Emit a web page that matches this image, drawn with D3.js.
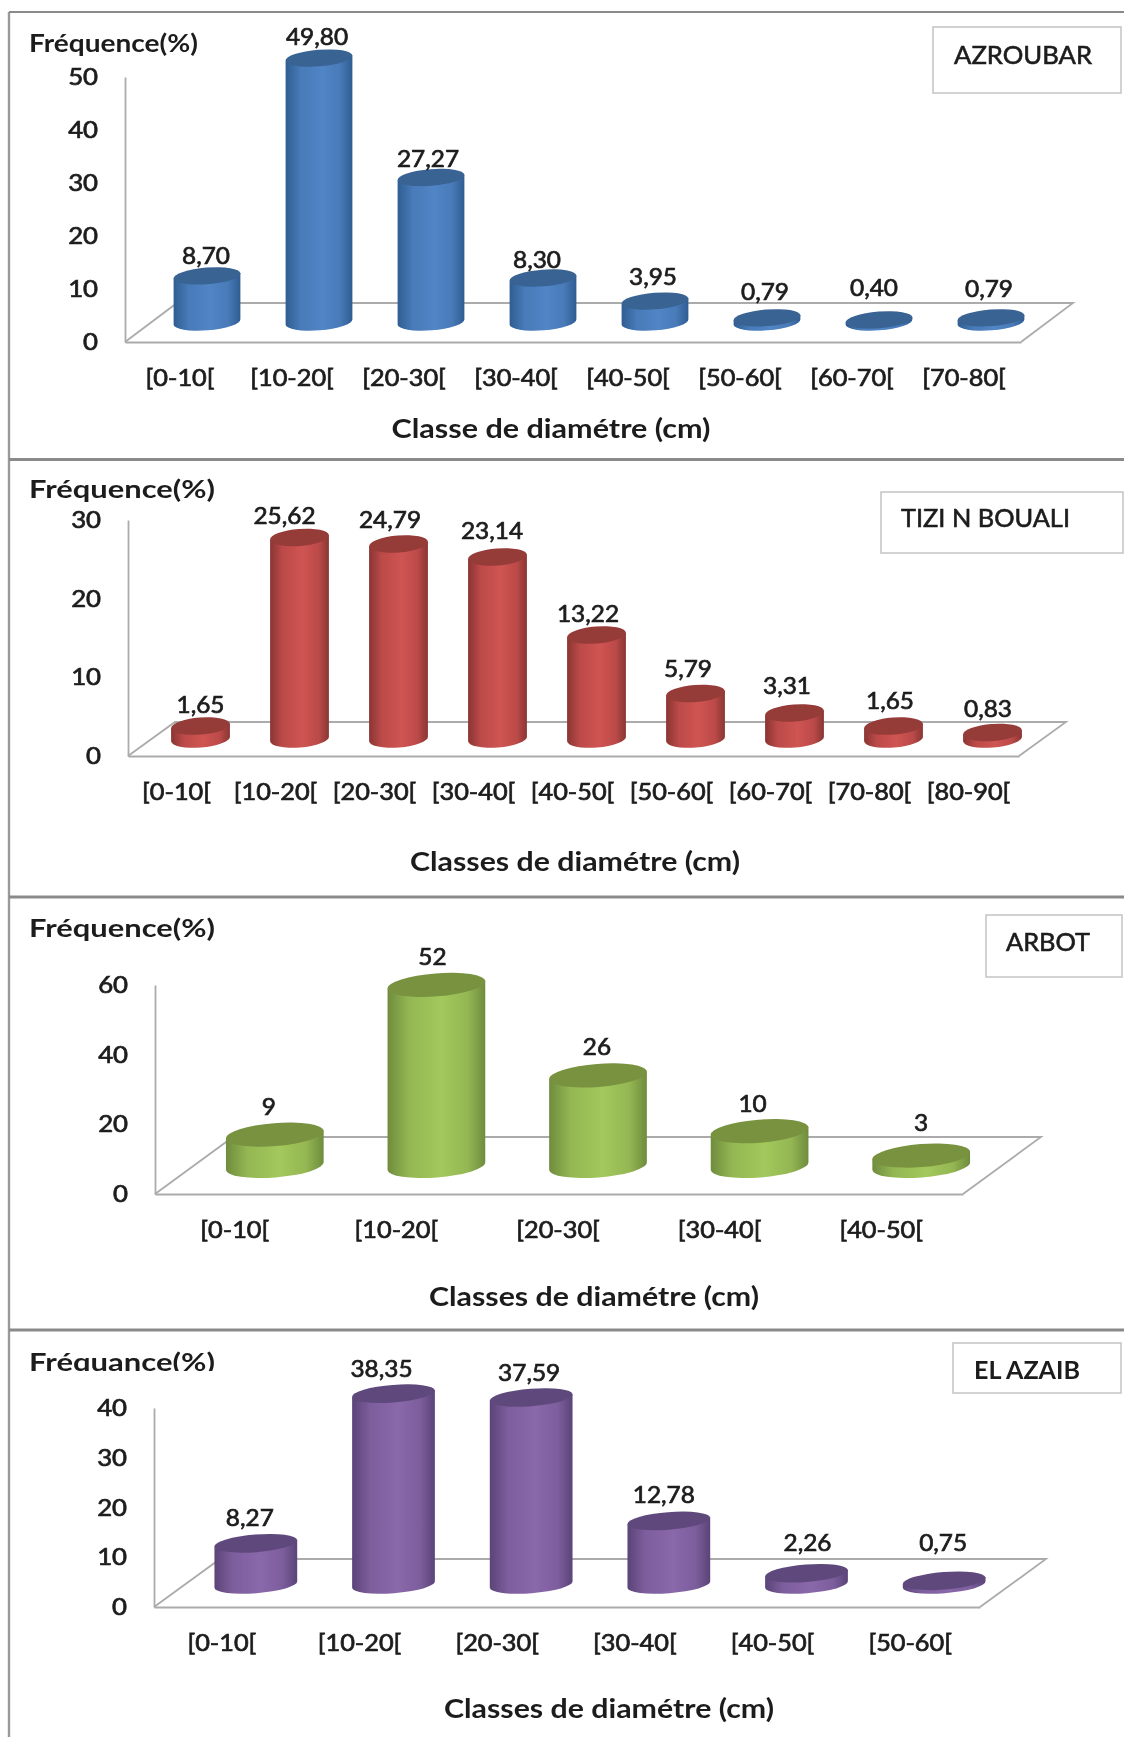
<!DOCTYPE html>
<html>
<head>
<meta charset="utf-8">
<script src="https://cdn.jsdelivr.net/npm/d3@7"></script>
<style>
  html, body { margin: 0; padding: 0; background: #fff; }
  svg { display: block; }
  text { font-family: Lato, "Open Sans", sans-serif; fill: #1c1c1c; }
</style>
</head>
<body>
<svg id="chart"></svg>
<script>
// Data
const classesAzroubar = ["[0-10[", "[10-20[", "[20-30[", "[30-40[", "[40-50[", "[50-60[", "[60-70[", "[70-80["];
const valuesAzroubar = [8.70, 49.80, 27.27, 8.30, 3.95, 0.79, 0.40, 0.79];
const ticksAzroubar = [0, 10, 20, 30, 40, 50];

const classesTizi = ["[0-10[", "[10-20[", "[20-30[", "[30-40[", "[40-50[", "[50-60[", "[60-70[", "[70-80[", "[80-90["];
const valuesTizi = [1.65, 25.62, 24.79, 23.14, 13.22, 5.79, 3.31, 1.65, 0.83];
const ticksTizi = [0, 10, 20, 30];

const classesArbot = ["[0-10[", "[10-20[", "[20-30[", "[30-40[", "[40-50["];
const valuesArbot = [9, 52, 26, 10, 3];
const ticksArbot = [0, 20, 40, 60];

const classesAzaib = ["[0-10[", "[10-20[", "[20-30[", "[30-40[", "[40-50[", "[50-60["];
const valuesAzaib = [8.27, 38.35, 37.59, 12.78, 2.26, 0.75];
const ticksAzaib = [0, 10, 20, 30, 40];

const width = 1124;
const height = 1737;
const fr = d3.formatLocale({ decimal: ",", thousands: " ", grouping: [3], currency: ["", ""] });
const tilt = 4.5; // cylinders lean a little, like the Excel 3D view

const svg = d3.select("#chart").attr("width", width).attr("height", height);
const defs = svg.append("defs");
defs.append("filter").attr("id", "soft")
    .attr("filterUnits", "userSpaceOnUse")
    .attr("x", 0).attr("y", 0).attr("width", width).attr("height", height)
    .append("feGaussianBlur").attr("stdDeviation", 0.6);
defs.append("clipPath").attr("id", "cropTitle")
    .append("rect").attr("x", 0).attr("y", 1330).attr("width", width).attr("height", 41);

const root = svg.append("g").attr("filter", "url(#soft)");

// Panel frames
root.append("rect").attr("width", width).attr("height", height).attr("fill", "#fff");
root.append("line").attr("x1", 9).attr("x2", 9).attr("y1", 12).attr("y2", height)
    .attr("stroke", "#9a9a9a").attr("stroke-width", 2.4);
[[12, 1.8], [459.5, 3], [897, 3], [1330, 3]].forEach(([y, w]) => {
    root.append("line").attr("x1", 9).attr("x2", width).attr("y1", y).attr("y2", y)
        .attr("stroke", "#8a8a8a").attr("stroke-width", w);
});

const panels = [
    {
        id: "blue", classes: classesAzroubar, values: valuesAzroubar, ticks: ticksAzroubar, fmt: fr.format(".2f"),
        name: "AZROUBAR", yTitle: "Fréquence(%)", xTitle: "Classe de diamétre (cm)",
        colors: ["#2f5d92", "#5185c6", "#386392"],
        x0: 125, x1: 1021, yBottom: 342, yTop: 77, depth: [52, -39], shift: [26, -20], rx: 33.5, ry: 8.3,
        labelDx: [-1, -2, -3, -6, -2, -2, -5, -2], labelDy: [-20, -21, -18.5, -18, -24, -26, -32, -29],
        yTitlePos: [29, 43], yTitleLen: 169, xTitlePos: [551, 429], xTitleLen: 319,
        box: [933, 27, 188, 66], boxText: [954, 55], boxLen: 138
    },
    {
        id: "red", classes: classesTizi, values: valuesTizi, ticks: ticksTizi, fmt: fr.format(".2f"),
        name: "TIZI N BOUALI", yTitle: "Fréquence(%)", xTitle: "Classes de diamétre (cm)",
        colors: ["#8a3533", "#cf5452", "#953b39"],
        x0: 128, x1: 1019, yBottom: 756, yTop: 520, depth: [47, -34], shift: [23, -17], rx: 29.5, ry: 8.5,
        labelDx: [0, -15, -8.5, -5.5, -8.5, -7.5, -7.5, -3.5, -4.5], labelDy: [-21, -22, -24, -26, -21, -25, -27, -25, -24],
        yTitlePos: [29, 489], yTitleLen: 186, xTitlePos: [575, 862], xTitleLen: 330,
        box: [881, 492, 242, 61], boxText: [901, 518], boxLen: 169
    },
    {
        id: "green", classes: classesArbot, values: valuesArbot, ticks: ticksArbot, fmt: fr.format("d"),
        name: "ARBOT", yTitle: "Fréquence(%)", xTitle: "Classes de diamétre (cm)",
        colors: ["#6f8c3d", "#a3c85c", "#78923f"],
        x0: 155, x1: 963, yBottom: 1194, yTop: 985, depth: [78, -57], shift: [39, -28], rx: 49, ry: 11.5,
        labelDx: [-6, -4, -1, -7, 0], labelDy: [-28, -28, -29, -27, -33],
        yTitlePos: [29, 928], yTitleLen: 186, xTitlePos: [594, 1297], xTitleLen: 330,
        box: [986, 915, 136, 62], boxText: [1006, 942], boxLen: 84
    },
    {
        id: "purple", classes: classesAzaib, values: valuesAzaib, ticks: ticksAzaib, fmt: fr.format(".2f"),
        name: "EL AZAIB", yTitle: "Fréquance(%)", xTitle: "Classes de diamétre (cm)",
        colors: ["#5b4478", "#8a68ab", "#5f4a7c"],
        x0: 154, x1: 980, yBottom: 1607, yTop: 1408, depth: [66, -48], shift: [33, -22.5], rx: 41.5, ry: 8.8,
        labelDx: [-6, -12, -2, -5, 1, -1], labelDy: [-26, -25, -25, -26, -31, -38],
        yTitlePos: [29, 1362], yTitleLen: 186, xTitlePos: [609, 1709], xTitleLen: 330, cropTitle: true,
        box: [953, 1343, 168, 50], boxText: [974, 1370], boxLen: 106, boldName: true
    }
];

const floorColor = "#ababab";
const inkColor = "#1c1c1c";

// The reference text is stretched sideways, so widen each label a bit
function widen(selection, factor) {
    selection.each(function () {
        const len = this.getComputedTextLength();
        d3.select(this)
            .attr("textLength", len * factor)
            .attr("lengthAdjust", "spacingAndGlyphs");
    });
}

function drawPanel(p) {
    const g = root.append("g");

    const xScale = d3.scaleBand().domain(p.classes).range([p.x0, p.x1]);
    const yScale = d3.scaleLinear()
        .domain([0, d3.max(p.ticks)])
        .range([p.yBottom, p.yTop]);

    // Cylinder shading
    const grad = defs.append("linearGradient").attr("id", "grad-" + p.id);
    grad.append("stop").attr("offset", "0%").attr("stop-color", p.colors[0]);
    grad.append("stop").attr("offset", "22%").attr("stop-color", d3.interpolateRgb(p.colors[0], p.colors[1])(0.72));
    grad.append("stop").attr("offset", "55%").attr("stop-color", p.colors[1]);
    grad.append("stop").attr("offset", "82%").attr("stop-color", d3.interpolateRgb(p.colors[0], p.colors[1])(0.72));
    grad.append("stop").attr("offset", "100%").attr("stop-color", p.colors[0]);

    // Back edge and side edges of the floor
    const [dx, dy] = p.depth;
    g.append("path")
        .attr("d", `M${p.x0},${p.yBottom}L${p.x0 + dx},${p.yBottom + dy}H${p.x1 + dx}L${p.x1},${p.yBottom}`)
        .attr("fill", "none").attr("stroke", floorColor).attr("stroke-width", 1.8);

    // Axes
    const axisY = g.append("g")
        .attr("transform", `translate(${p.x0},0)`)
        .call(d3.axisLeft(yScale).tickValues(p.ticks).tickSize(0).tickPadding(27).tickFormat(d3.format("d")));
    const axisX = g.append("g")
        .attr("transform", `translate(0,${p.yBottom})`)
        .call(d3.axisBottom(xScale).tickSize(0).tickPadding(28));
    axisY.select(".domain").attr("stroke", floorColor).attr("stroke-width", 1.8);
    axisX.select(".domain").attr("stroke", floorColor).attr("stroke-width", 1.8);
    axisY.selectAll("text").attr("dy", "0.33em");
    g.selectAll(".tick text")
        .style("font-size", "23px").style("font-family", "Lato").style("fill", inkColor)
        .style("stroke", inkColor).style("stroke-width", 0.7);
    axisY.selectAll(".tick text").call(widen, 1.12);
    axisX.selectAll(".tick text").attr("dx", -1).call(widen, 1.1);

    // Cylinders
    const rad = tilt * Math.PI / 180;
    const ox = p.rx * Math.cos(rad), oy = p.rx * Math.sin(rad);
    const data = p.classes.map((c, i) => ({
        cls: c,
        value: p.values[i],
        cx: xScale(c) + xScale.bandwidth() / 2 + p.shift[0],
        top: yScale(p.values[i]) + p.shift[1],
        base: yScale(0) + p.shift[1],
        dx: p.labelDx[i],
        dy: p.labelDy[i]
    }));

    const bars = g.selectAll("g.bar").data(data).enter().append("g").attr("class", "bar");
    bars.append("path")
        .attr("d", d => `M${d.cx - ox},${d.top + oy}L${d.cx - ox},${d.base + oy}` +
            `A${p.rx},${p.ry} ${-tilt} 0 0 ${d.cx + ox},${d.base - oy}` +
            `L${d.cx + ox},${d.top - oy}Z`)
        .attr("fill", `url(#grad-${p.id})`);
    bars.append("ellipse")
        .attr("rx", p.rx).attr("ry", p.ry)
        .attr("transform", d => `translate(${d.cx},${d.top}) rotate(${-tilt})`)
        .attr("fill", p.colors[2]);

    // Value labels
    g.selectAll("text.value").data(data).enter().append("text")
        .attr("class", "value")
        .attr("x", d => d.cx + d.dx)
        .attr("y", d => d.top + d.dy)
        .attr("dy", "0.36em")
        .attr("text-anchor", "middle")
        .style("font-size", "23px")
        .style("stroke", inkColor).style("stroke-width", 0.7)
        .text(d => p.fmt(d.value))
        .call(widen, 1.06);

    // Y title
    const yt = g.append("text")
        .attr("x", p.yTitlePos[0]).attr("y", p.yTitlePos[1]).attr("dy", "0.36em")
        .attr("textLength", p.yTitleLen).attr("lengthAdjust", "spacingAndGlyphs")
        .style("font-size", "24px").style("font-weight", 700)
        .text(p.yTitle);
    if (p.cropTitle) yt.attr("clip-path", "url(#cropTitle)");

    // X title
    g.append("text")
        .attr("x", p.xTitlePos[0]).attr("y", p.xTitlePos[1]).attr("dy", "0.36em")
        .attr("text-anchor", "middle")
        .attr("textLength", p.xTitleLen).attr("lengthAdjust", "spacingAndGlyphs")
        .style("font-size", "26px").style("font-weight", 700)
        .text(p.xTitle);

    // Site name box
    g.append("rect")
        .attr("x", p.box[0]).attr("y", p.box[1]).attr("width", p.box[2]).attr("height", p.box[3])
        .attr("fill", "#fff").attr("stroke", "#c4c4c4").attr("stroke-width", 1.5);
    g.append("text")
        .attr("x", p.boxText[0]).attr("y", p.boxText[1]).attr("dy", "0.36em")
        .attr("textLength", p.boxLen).attr("lengthAdjust", "spacingAndGlyphs")
        .style("font-size", "25px").style("font-weight", p.boldName ? 700 : 400)
        .style("stroke", inkColor).style("stroke-width", p.boldName ? 0 : 0.6)
        .text(p.name);
}

panels.forEach(drawPanel);
</script>
</body>
</html>
